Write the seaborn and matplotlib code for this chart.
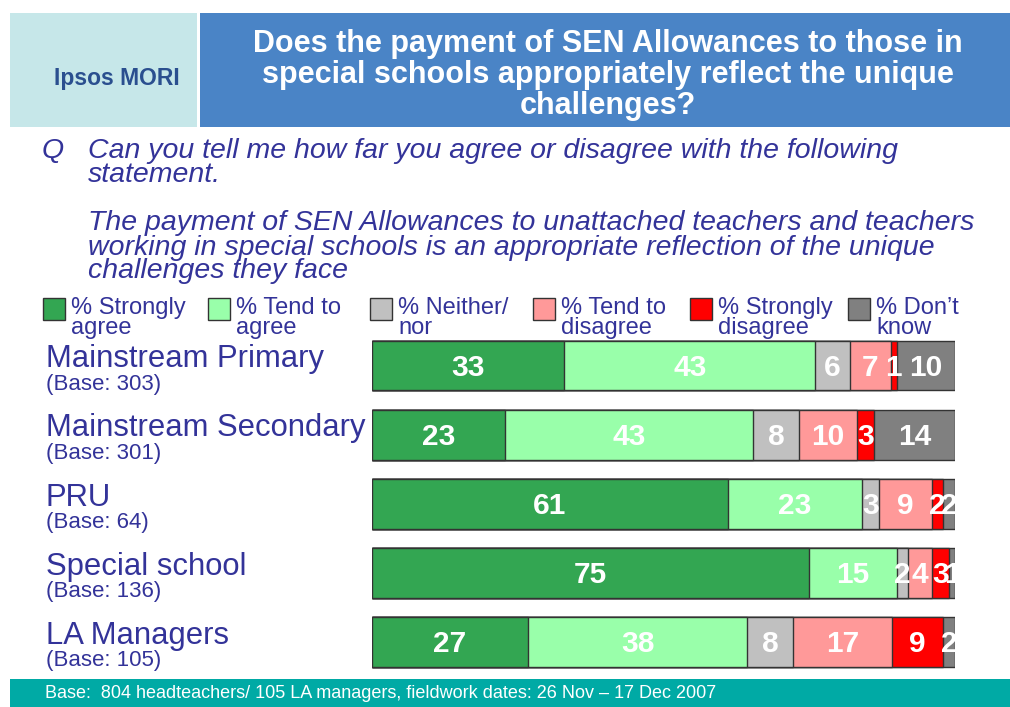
import numpy as np
import pandas as pd
import matplotlib
matplotlib.use("Agg")
import matplotlib.pyplot as plt
import matplotlib.transforms as mtransforms
from matplotlib.patches import Rectangle
import seaborn as sns

# data
groups = ["Mainstream Primary", "Mainstream Secondary", "PRU", "Special school", "LA Managers"]
bases = ["(Base: 303)", "(Base: 301)", "(Base: 64)", "(Base: 136)", "(Base: 105)"]
strongly_agree = [33, 23, 61, 75, 27]
tend_agree = [43, 43, 23, 15, 38]
neither = [6, 8, 3, 2, 8]
tend_disagree = [7, 10, 9, 4, 17]
strongly_disagree = [1, 3, 2, 3, 9]
dont_know = [10, 14, 2, 1, 2]

legend_labels = [("% Strongly", "agree"), ("% Tend to", "agree"), ("% Neither/", "nor"),
                 ("% Tend to", "disagree"), ("% Strongly", "disagree"), ("% Don\u2019t", "know")]
colors = ["#33a652", "#99ffaa", "#c0c0c0", "#ff9999", "#ff0000", "#808080"]

TXT = "#333399"
FONT = "Liberation Sans"

sns.set_theme(style="white")
plt.rcParams["font.family"] = [FONT, "DejaVu Sans"]

W, H = 1010, 707
fig = plt.figure(figsize=(W / 100, H / 100), dpi=100)


def fx(x):
    return x / W


def fy(y):
    return 1 - y / H


# header
fig.patches.append(Rectangle((fx(10), fy(127)), fx(187), 114 / H, transform=fig.transFigure,
                             facecolor="#c6e7e9", edgecolor="none"))
fig.patches.append(Rectangle((fx(200), fy(127)), fx(810), 114 / H, transform=fig.transFigure,
                             facecolor="#4a84c6", edgecolor="none"))
fig.text(fx(117), fy(79), "Ipsos MORI", color="#2a4f8f", fontsize=16.5, fontweight="bold",
         ha="center", va="center")
for yy, line in zip([44, 75, 106], ["Does the payment of SEN Allowances to those in",
                                    "special schools appropriately reflect the unique",
                                    "challenges?"]):
    fig.text(fx(608), fy(yy), line, color="white", fontsize=22, fontweight="bold",
             ha="center", va="center")

# question
fig.text(fx(42), fy(151), "Q", color=TXT, fontsize=20.5, style="italic", va="center")
q_lines = [(151, "Can you tell me how far you agree or disagree with the following"),
           (175, "statement."),
           (223, "The payment of SEN Allowances to unattached teachers and teachers"),
           (248, "working in special schools is an appropriate reflection of the unique"),
           (271, "challenges they face")]
for yy, line in q_lines:
    fig.text(fx(88), fy(yy), line, color=TXT, fontsize=20.5, style="italic", va="center")

# legend
leg_x = [43, 208, 370, 533, 690, 848]
for x0, (l1, l2), c in zip(leg_x, legend_labels, colors):
    fig.patches.append(Rectangle((fx(x0), fy(320)), 22 / W, 22 / H, transform=fig.transFigure,
                                 facecolor=c, edgecolor="#333333", linewidth=1))
    fig.text(fx(x0 + 28), fy(308), l1, color=TXT, fontsize=17, va="center")
    fig.text(fx(x0 + 28), fy(328), l2, color=TXT, fontsize=17, va="center")

# footer
fig.patches.append(Rectangle((fx(10), 0), fx(1000), 28 / H, transform=fig.transFigure,
                             facecolor="#00aaa5", edgecolor="none"))
fig.text(fx(45), fy(694), "Base:  804 headteachers/ 105 LA managers, fieldwork dates: 26 Nov \u2013 17 Dec 2007",
         color="white", fontsize=13, va="center")

# stacked bars
vals = np.array([strongly_agree, tend_agree, neither, tend_disagree, strongly_disagree, dont_know],
                dtype=float).T
pct = vals / vals.sum(axis=1, keepdims=True) * 100
cum = pct.cumsum(axis=1)

ax = fig.add_axes([fx(372), 1 - 676.5 / H, 583 / W, 345.5 / H])
for i in range(len(colors) - 1, -1, -1):
    df = pd.DataFrame({"group": groups, "value": cum[:, i]})
    sns.barplot(data=df, x="value", y="group", orient="h", color=colors[i], saturation=1,
                width=0.72, edgecolor="#333333", linewidth=1, ax=ax)

for r in range(len(groups)):
    starts = cum[r] - pct[r]
    for i in range(len(colors)):
        ax.text(starts[i] + pct[r, i] / 2, r + 0.03, f"{int(vals[r, i])}", color="white",
                fontsize=21.5, fontweight="bold", ha="center", va="center")

ax.set_xlim(0, 100)
ax.set_ylim(4.5, -0.5)
ax.axis("off")

trans = mtransforms.blended_transform_factory(fig.transFigure, ax.transData)
for r, (g, b) in enumerate(zip(groups, bases)):
    ax.text(fx(46), r - 0.09, g, transform=trans, color=TXT, fontsize=22.3, va="center")
    ax.text(fx(46), r + 0.27, b, transform=trans, color=TXT, fontsize=16, va="center")

fig.savefig("out.png", dpi=100)
